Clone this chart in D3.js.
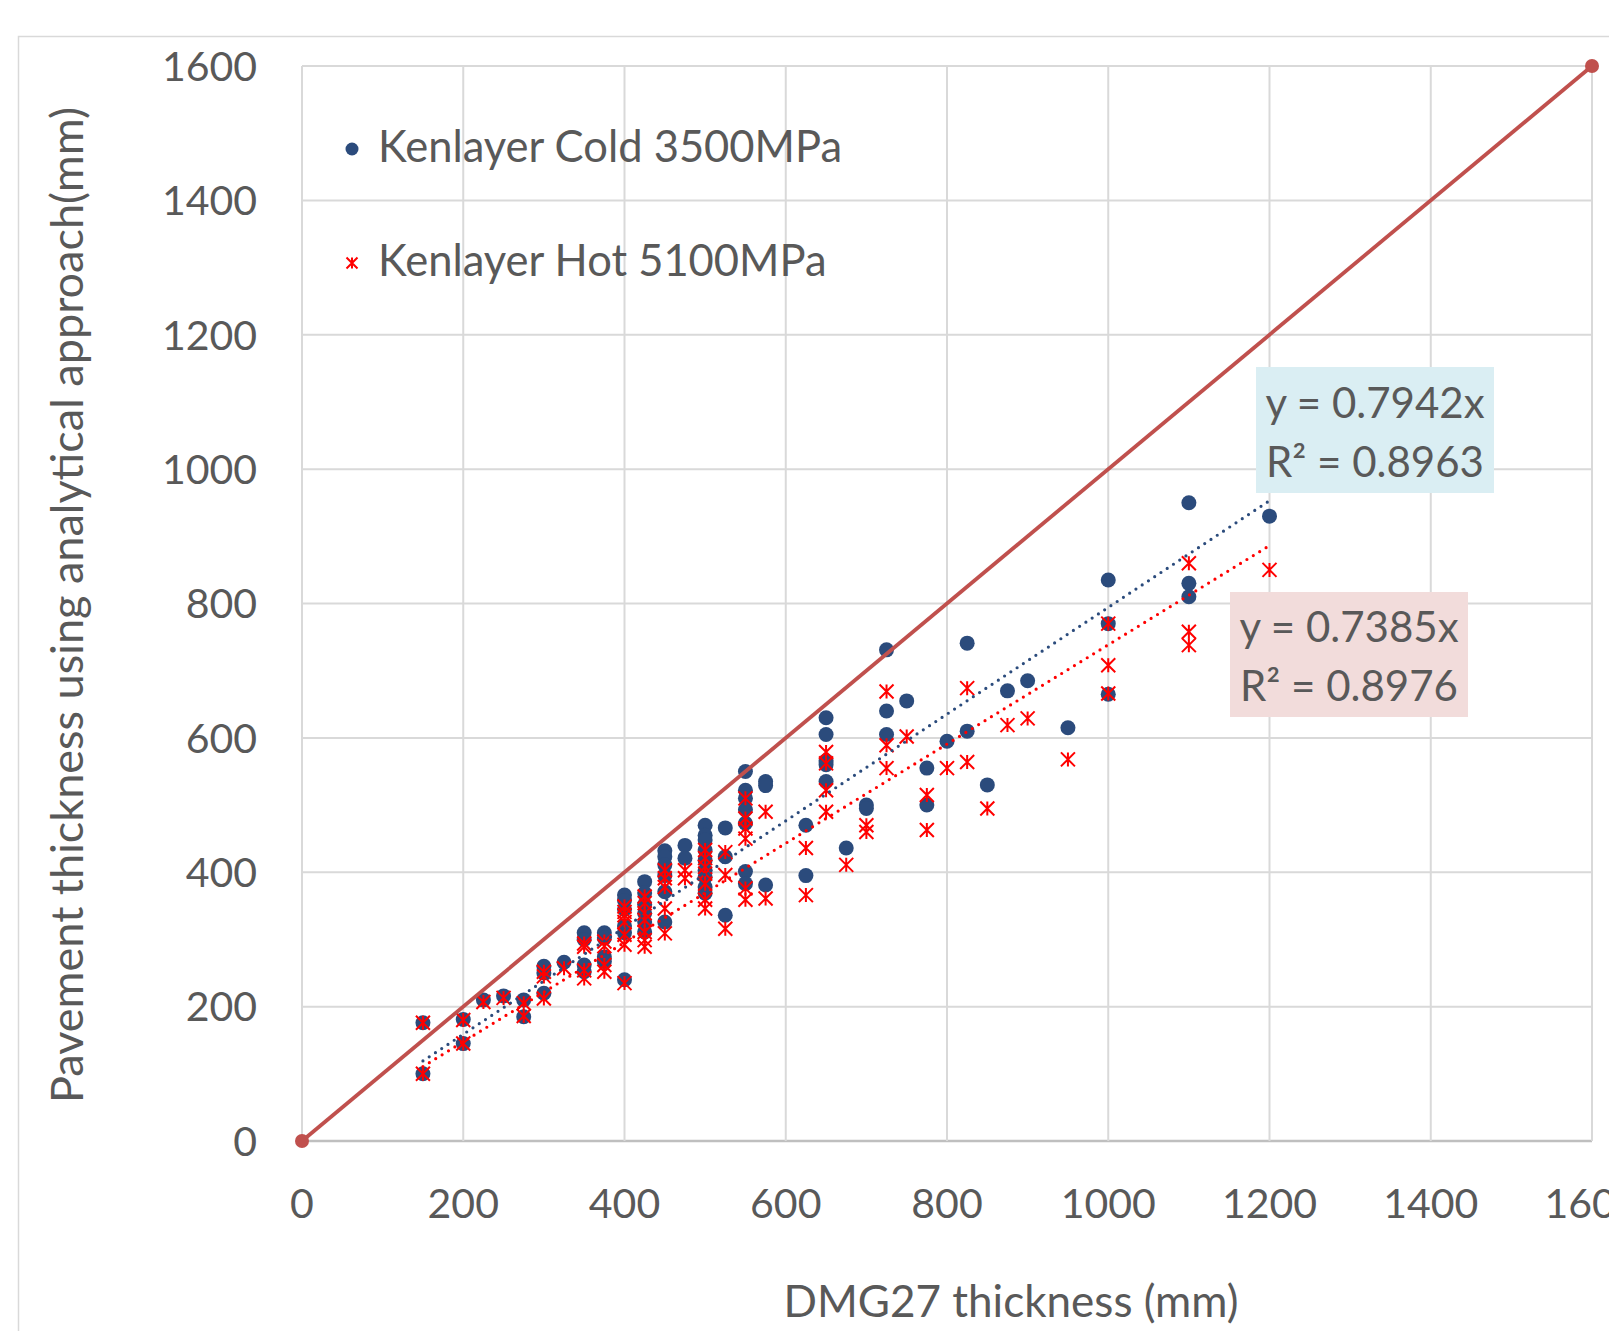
<!DOCTYPE html>
<html>
<head>
<meta charset="utf-8">
<script src="https://cdn.jsdelivr.net/npm/d3@7"></script>
<style>
  body { margin: 0; background: #fff; }
  svg text { font-family: Lato, "Open Sans", sans-serif; fill: #595959; }
</style>
</head>
<body>
<svg width="1609" height="1331"></svg>
<script>
// data (x = DMG27 thickness, y = analytical thickness)
var coldPoints = [
  [150,176],[150,100],[200,181],[200,145],[225,210],[250,216],[275,210],[275,185],
  [300,260],[300,250],[300,220],[325,266],[350,310],[350,300],[350,262],[350,252],
  [375,310],[375,302],[375,274],[375,267],
  [400,366],[400,358],[400,345],[400,320],[400,310],[400,240],
  [425,386],[425,369],[425,352],[425,339],[425,326],[425,311],
  [450,432],[450,423],[450,411],[450,395],[450,371],[450,326],
  [475,440],[475,421],
  [500,470],[500,455],[500,448],[500,433],[500,418],[500,403],[500,393],[500,378],[500,369],
  [525,466],[525,423],[525,336],
  [550,550],[550,522],[550,510],[550,493],[550,473],[550,401],[550,383],
  [575,535],[575,529],[575,381],
  [625,470],[625,395],
  [650,630],[650,605],[650,566],[650,560],[650,535],
  [675,436],[700,500],[700,495],[725,731],[725,640],[725,605],[750,655],
  [775,555],[775,500],[800,595],[825,741],[825,610],[850,530],[875,670],[900,685],
  [950,615],[1000,835],[1000,770],[1000,665],[1100,950],[1100,830],[1100,810],[1200,930]
];
var hotPoints = [
  [150,176],[150,100],[200,180],[200,145],[225,207],[250,213],[275,205],[275,186],
  [300,252],[300,245],[300,212],[325,257],[350,294],[350,289],[350,254],[350,242],
  [375,297],[375,290],[375,262],[375,252],
  [400,349],[400,341],[400,336],[400,326],[400,307],[400,292],[400,235],
  [425,364],[425,354],[425,339],[425,329],[425,311],[425,299],[425,289],
  [450,403],[450,391],[450,378],[450,346],[450,309],
  [475,403],[475,391],
  [500,433],[500,421],[500,408],[500,398],[500,383],[500,359],[500,346],
  [525,430],[525,396],[525,316],
  [550,510],[550,480],[550,465],[550,450],[550,376],[550,359],
  [575,490],[575,361],
  [625,436],[625,366],
  [650,579],[650,562],[650,522],[650,490],
  [675,411],[700,470],[700,460],[725,669],[725,589],[725,555],[750,602],
  [775,515],[775,463],[800,555],[825,674],[825,564],[850,495],[875,619],[900,629],
  [950,568],[1000,770],[1000,708],[1000,666],[1100,860],[1100,758],[1100,738],[1200,850]
];
var refLine = [[0,0],[1600,1600]];
var seriesNames = ["Kenlayer Cold 3500MPa", "Kenlayer Hot 5100MPa"];
var slopes = [0.7942, 0.7385];
var r2 = ["0.8963", "0.8976"];
var trendRange = [150, 1200];
var ticks = [0,200,400,600,800,1000,1200,1400,1600];

var svg = d3.select("svg");
var blue = "#2B4B7C", red = "#FF0000", brick = "#C0504D";

var x = d3.scaleLinear().domain([0,1600]).range([302,1592]);
var y = d3.scaleLinear().domain([0,1600]).range([1141,66]);

// chart border
svg.append("rect").attr("x",18.5).attr("y",36.5).attr("width",1700).attr("height",1400)
  .attr("fill","none").attr("stroke","#D9D9D9").attr("stroke-width",1.5);

// grid
svg.append("g").selectAll("line").data(ticks).enter().append("line")
  .attr("x1", x(0)).attr("x2", x(1600))
  .attr("y1", function(d){ return y(d) }).attr("y2", function(d){ return y(d) })
  .attr("stroke", function(d){ return d==0 ? "#BFBFBF" : "#D9D9D9" })
  .attr("stroke-width", function(d){ return d==0 ? 2.5 : 2 });
svg.append("g").selectAll("line").data(ticks).enter().append("line")
  .attr("y1", y(0)).attr("y2", y(1600))
  .attr("x1", function(d){ return x(d) }).attr("x2", function(d){ return x(d) })
  .attr("stroke","#D9D9D9").attr("stroke-width",2);

// tick labels
svg.append("g").selectAll("text").data(ticks).enter().append("text")
  .attr("x", 257).attr("y", function(d){ return y(d) }).attr("dy","0.36em")
  .attr("text-anchor","end").style("font-size","41px").text(function(d){ return d });
svg.append("g").selectAll("text").data(ticks).enter().append("text")
  .attr("x", function(d){ return x(d) }).attr("y", 1218)
  .attr("text-anchor","middle").style("font-size","41px").text(function(d){ return d });

// axis titles
svg.append("text").attr("x",1011).attr("y",1317).attr("text-anchor","middle")
  .style("font-size","44px").text("DMG27 thickness (mm)");
svg.append("text").attr("transform","translate(83,605) rotate(-90)").attr("text-anchor","middle")
  .style("font-size","45px").text("Pavement thickness using analytical approach(mm)");

// markers
var star = function(s){ return "M"+(-s)+","+(-s)+"L"+s+","+s+"M"+(-s)+","+s+"L"+s+","+(-s)+"M0,"+(-s)+"L0,"+s };

svg.append("g").selectAll("circle").data(coldPoints).enter().append("circle")
  .attr("cx", function(d){ return x(d[0]) }).attr("cy", function(d){ return y(d[1]) })
  .attr("r", 7.5).attr("fill", blue);

svg.append("g").selectAll("path").data(hotPoints).enter().append("path")
  .attr("transform", function(d){ return "translate("+x(d[0])+","+y(d[1])+")" })
  .attr("d", star(7)).attr("stroke", red).attr("stroke-width", 2).attr("fill","none");

// 1:1 line
var line = d3.line().x(function(d){ return x(d[0]) }).y(function(d){ return y(d[1]) });
svg.append("path").datum(refLine).attr("d", line).attr("stroke", brick)
  .attr("stroke-width", 3.8).attr("fill","none");
svg.append("g").selectAll("circle").data(refLine).enter().append("circle")
  .attr("cx", function(d){ return x(d[0]) }).attr("cy", function(d){ return y(d[1]) })
  .attr("r", 7).attr("fill", brick);

// trendlines (forced through origin)
[blue, red].forEach(function(c, i){
  var pts = trendRange.map(function(v){ return [v, v*slopes[i]] });
  svg.append("path").datum(pts).attr("d", line).attr("stroke", c)
    .attr("stroke-width", 3.2).attr("stroke-linecap","round")
    .attr("stroke-dasharray","0 7.5").attr("fill","none");
});

// equation labels
var eqBoxes = [
  {x:1256, y:367, w:238, h:126, fill:"#DAEEF3", b1:418, b2:477},
  {x:1230, y:592, w:238, h:125, fill:"#F2DCDB", b1:642, b2:701}
];
eqBoxes.forEach(function(b, i){
  svg.append("rect").attr("x",b.x).attr("y",b.y).attr("width",b.w).attr("height",b.h).attr("fill",b.fill);
  svg.append("text").attr("x", b.x+b.w/2).attr("y", b.b1).attr("text-anchor","middle")
    .style("font-size","42px").text("y = " + slopes[i] + "x");
  svg.append("text").attr("x", b.x+b.w/2).attr("y", b.b2).attr("text-anchor","middle")
    .style("font-size","42px").text("R² = " + r2[i]);
});

// legend
svg.append("circle").attr("cx",352).attr("cy",149).attr("r",6.5).attr("fill",blue);
svg.append("path").attr("transform","translate(352,263)").attr("d",star(5.5))
  .attr("stroke",red).attr("stroke-width",2).attr("fill","none");
svg.append("text").attr("x",378).attr("y",162).style("font-size","43.5px").text(seriesNames[0]);
svg.append("text").attr("x",378).attr("y",276).style("font-size","43.5px").text(seriesNames[1]);
</script>
</body>
</html>
